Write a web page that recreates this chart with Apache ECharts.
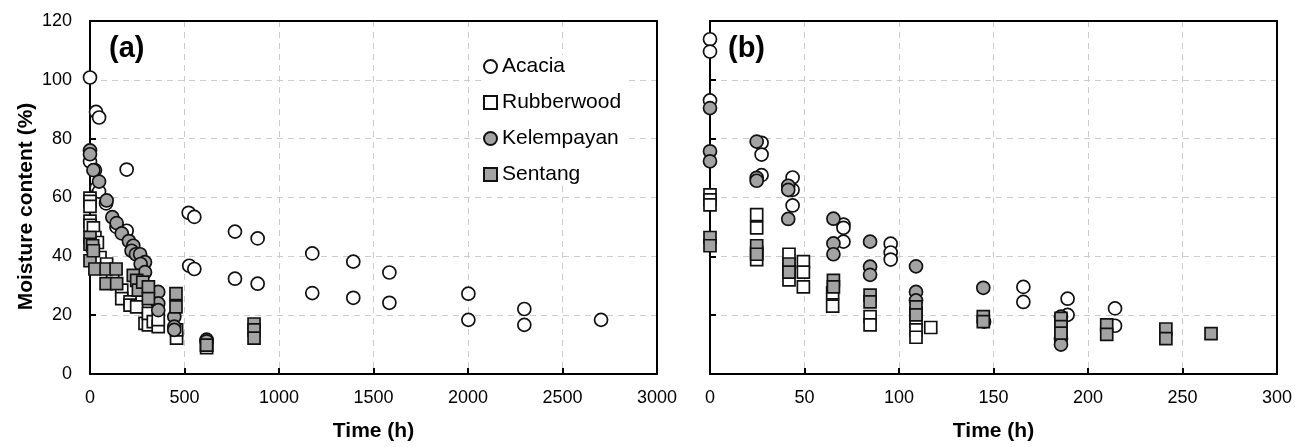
<!DOCTYPE html>
<html>
<head>
<meta charset="utf-8">
<script src="https://cdn.jsdelivr.net/npm/echarts@6/dist/echarts.min.js"></script>
<style>html,body{margin:0;padding:0;background:#fff;}#c{width:1303px;height:447px;}</style>
</head>
<body>
<div id="c"></div>
<script>
// ---- Data (time h, moisture content %) ----
const seriesNames = ['Acacia', 'Rubberwood', 'Kelempayan', 'Sentang'];

const acaciaA = [[0,100.8],[32,89.1],[48,87.2],[0,72.2],[26,69.3],[35,63.2],[48,62],[194,69.5],[194,48.7],[85,58],[140,50],[300,22],[360,20],
  [522,54.8],[552,53.4],[525,36.8],[552,35.7],[767,48.4],[767,32.4],[887,46.1],[887,30.7],[1176,41],[1176,27.5],[1393,38.2],[1393,25.9],
  [1584,34.5],[1584,24.2],[2002,27.3],[2002,18.4],[2298,22.1],[2298,16.7],[2704,18.4]];
const rubberA = [[0,59.8],[0,58.7],[0,57],[0,52],[0,50.5],[18,49.7],[26,46.4],[39,44.7],[53,39.6],[88,37.4],[120,33],[168,28.5],[168,25.6],
  [212,24.5],[212,23.4],[247,22.8],[291,17.2],[309,16.7],[309,20.6],[335,17.8],[361,16.1],[361,18.5],[458,12.2],[458,15],[617,9],[617,9.8]];
const kelempA = [[0,76],[0,74.7],[18,69.3],[48,65.4],[88,59],[118,53.3],[141,51.3],[168,47.8],[206,45.2],[229,43.6],[220,41.9],[243,40.7],
  [265,40.7],[291,38],[268,37.4],[291,34.6],[361,27.9],[361,24],[361,21.7],[446,19.5],[446,16.1],[446,15],[617,11.7],[617,11.1]];
const sentangA = [[0,46.4],[0,44.1],[0,38.5],[14,43.6],[18,41.9],[26,35.7],[85,35.7],[85,30.7],[138,35.7],[141,30.7],[229,33.5],[247,31.8],
  [256,28.5],[279,31.2],[309,29.6],[309,25.6],[455,27.3],[455,22.8],[617,9.8],[868,17],[868,15],[868,12.2]];

const acaciaB = [[0,113.8],[0,109.6],[0,93],[27.3,78.6],[27.3,74.6],[27.3,67.6],[43.7,66.8],[43.7,62.6],[43.7,57.3],[70.6,50.8],[70.6,49.7],
  [70.6,45],[95.6,44.3],[95.6,41.3],[95.6,38.9],[145,17.8],[165.8,29.6],[165.8,24.5],[189.2,25.6],[189.2,20.1],[214.3,22.3],[214.3,16.4]];
const rubberB = [[0,60.9],[0,59.2],[0,57.5],[24.7,54.2],[24.7,49.7],[24.7,41.3],[24.7,38.9],[41.8,40.7],[41.8,35.7],[41.8,32],[49.4,38.2],
  [49.4,34.6],[49.4,29.6],[64.9,27.6],[64.9,23.1],[84.7,19.5],[84.7,16.7],[109,20.6],[109,17.8],[109,15],[109,12.5],[116.8,15.8],[185.7,15]];
const kelempB = [[0,90.4],[0,75.7],[0,72.3],[24.7,79],[24.7,66.7],[24.7,65.7],[41.4,64],[41.4,62.6],[41.4,52.7],[65.3,52.8],[65.3,44.4],
  [65.3,40.7],[84.7,45],[84.7,36.5],[84.7,33.7],[109,36.6],[109,27.9],[109,25],[144.6,29.3],[185.7,19.5],[185.7,12],[185.7,10]];
const sentangB = [[0,46.4],[0,43.6],[24.7,43.6],[24.7,40.7],[41.8,37.4],[41.8,34.6],[65.3,31.8],[65.3,29.6],[84.7,26.8],[84.7,24.5],
  [109,22.8],[109,20.1],[144.6,19.5],[144.6,17.8],[185.7,18.9],[185.7,16.1],[185.7,13.9],[209.9,16.7],[209.9,13.5],[241.2,15.3],[241.2,12],[265.1,13.7]];

const xMaxA = 3000, xIntA = 500;
const xMaxB = 300, xIntB = 50;
const yMax = 120, yInt = 20;

// ---- Styles ----
const FONT = 'Liberation Sans, Arial, sans-serif';
const styles = {
  Acacia:     {symbol:'circle', size:13, color:'#ffffff'},
  Rubberwood: {symbol:'rect',   size:12, color:'#ffffff'},
  Kelempayan: {symbol:'circle', size:13, color:'#a3a3a3'},
  Sentang:    {symbol:'rect',   size:12, color:'#a3a3a3'}
};
function mk(name, data, idx) {
  const s = styles[name];
  return {
    name: name, type:'scatter', xAxisIndex: idx, yAxisIndex: idx,
    data: data, symbol: s.symbol, symbolSize: s.size,
    itemStyle: {color: s.color, borderColor:'#111', borderWidth:1.7, opacity:1},
    emphasis: {disabled:true}
  };
}
const plain = v => String(v);
function xAxis(idx, max, interval) {
  return {
    type:'value', gridIndex: idx, min:0, max:max, interval:interval,
    name:'Time (h)', nameLocation:'middle', nameGap:47,
    nameTextStyle:{fontFamily:FONT, fontSize:21, fontWeight:'bold', color:'#000'},
    axisLine:{show:true, onZero:false, lineStyle:{color:'#000', width:2}},
    axisTick:{show:true, inside:true, length:6, lineStyle:{color:'#000', width:2}},
    axisLabel:{fontFamily:FONT, fontSize:18, color:'#000', margin:15, formatter:plain},
    splitLine:{show:true, lineStyle:{color:'#cccccc', width:1, type:[6,5]}}
  };
}
function xTop(idx, max) {
  return {type:'value', gridIndex:idx, position:'top', min:0, max:max,
    axisLine:{show:true, onZero:false, lineStyle:{color:'#000', width:2}},
    axisTick:{show:false}, axisLabel:{show:false}, splitLine:{show:false}};
}
function yAxis(idx, showLabels) {
  return {
    type:'value', gridIndex: idx, min:0, max:yMax, interval:yInt,
    name: showLabels ? 'Moisture content (%)' : '', nameLocation:'middle', nameGap:53,
    nameTextStyle:{fontFamily:FONT, fontSize:21, fontWeight:'bold', color:'#000', padding:[0,18,0,0]},
    axisLine:{show:true, onZero:false, lineStyle:{color:'#000', width:2}},
    axisTick:{show:true, inside:true, length:6, lineStyle:{color:'#000', width:2}},
    axisLabel:{show:showLabels, fontFamily:FONT, fontSize:18, color:'#000', margin:18, formatter:plain},
    splitLine:{show:true, lineStyle:{color:'#cccccc', width:1, type:[6,5]}}
  };
}
function yRight(idx) {
  return {type:'value', gridIndex:idx, position:'right', min:0, max:yMax,
    axisLine:{show:true, onZero:false, lineStyle:{color:'#000', width:2}},
    axisTick:{show:false}, axisLabel:{show:false}, splitLine:{show:false}};
}

const chart = echarts.init(document.getElementById('c'), null, {renderer:'canvas'});
chart.setOption({
  animation:false,
  backgroundColor:'#ffffff',
  title:[
    {text:'(a)', left:109, top:34, padding:0, textStyle:{fontFamily:FONT, fontSize:29, fontWeight:'bold', color:'#000'}},
    {text:'(b)', left:728, top:34, padding:0, textStyle:{fontFamily:FONT, fontSize:29, fontWeight:'bold', color:'#000'}}
  ],
  legend:{
    data: seriesNames, orient:'vertical', left:483, top:55, padding:[1,6,1,0],
    backgroundColor:'#ffffff', itemWidth:13, itemHeight:13, itemGap:15,
    textStyle:{fontFamily:FONT, fontSize:21, color:'#000', lineHeight:21},
    selectedMode:false
  },
  grid:[
    {left:90, top:21, width:567, height:357, show:false, containLabel:false},
    {left:710, top:21, width:567, height:357, show:false, containLabel:false}
  ],
  xAxis:[xAxis(0, xMaxA, xIntA), xAxis(1, xMaxB, xIntB), xTop(0, xMaxA), xTop(1, xMaxB)],
  yAxis:[yAxis(0, true), yAxis(1, false), yRight(0), yRight(1)],
  series:[
    mk('Acacia', acaciaA, 0), mk('Rubberwood', rubberA, 0), mk('Kelempayan', kelempA, 0), mk('Sentang', sentangA, 0),
    mk('Acacia', acaciaB, 1), mk('Rubberwood', rubberB, 1), mk('Kelempayan', kelempB, 1), mk('Sentang', sentangB, 1)
  ]
});
</script>
</body>
</html>
